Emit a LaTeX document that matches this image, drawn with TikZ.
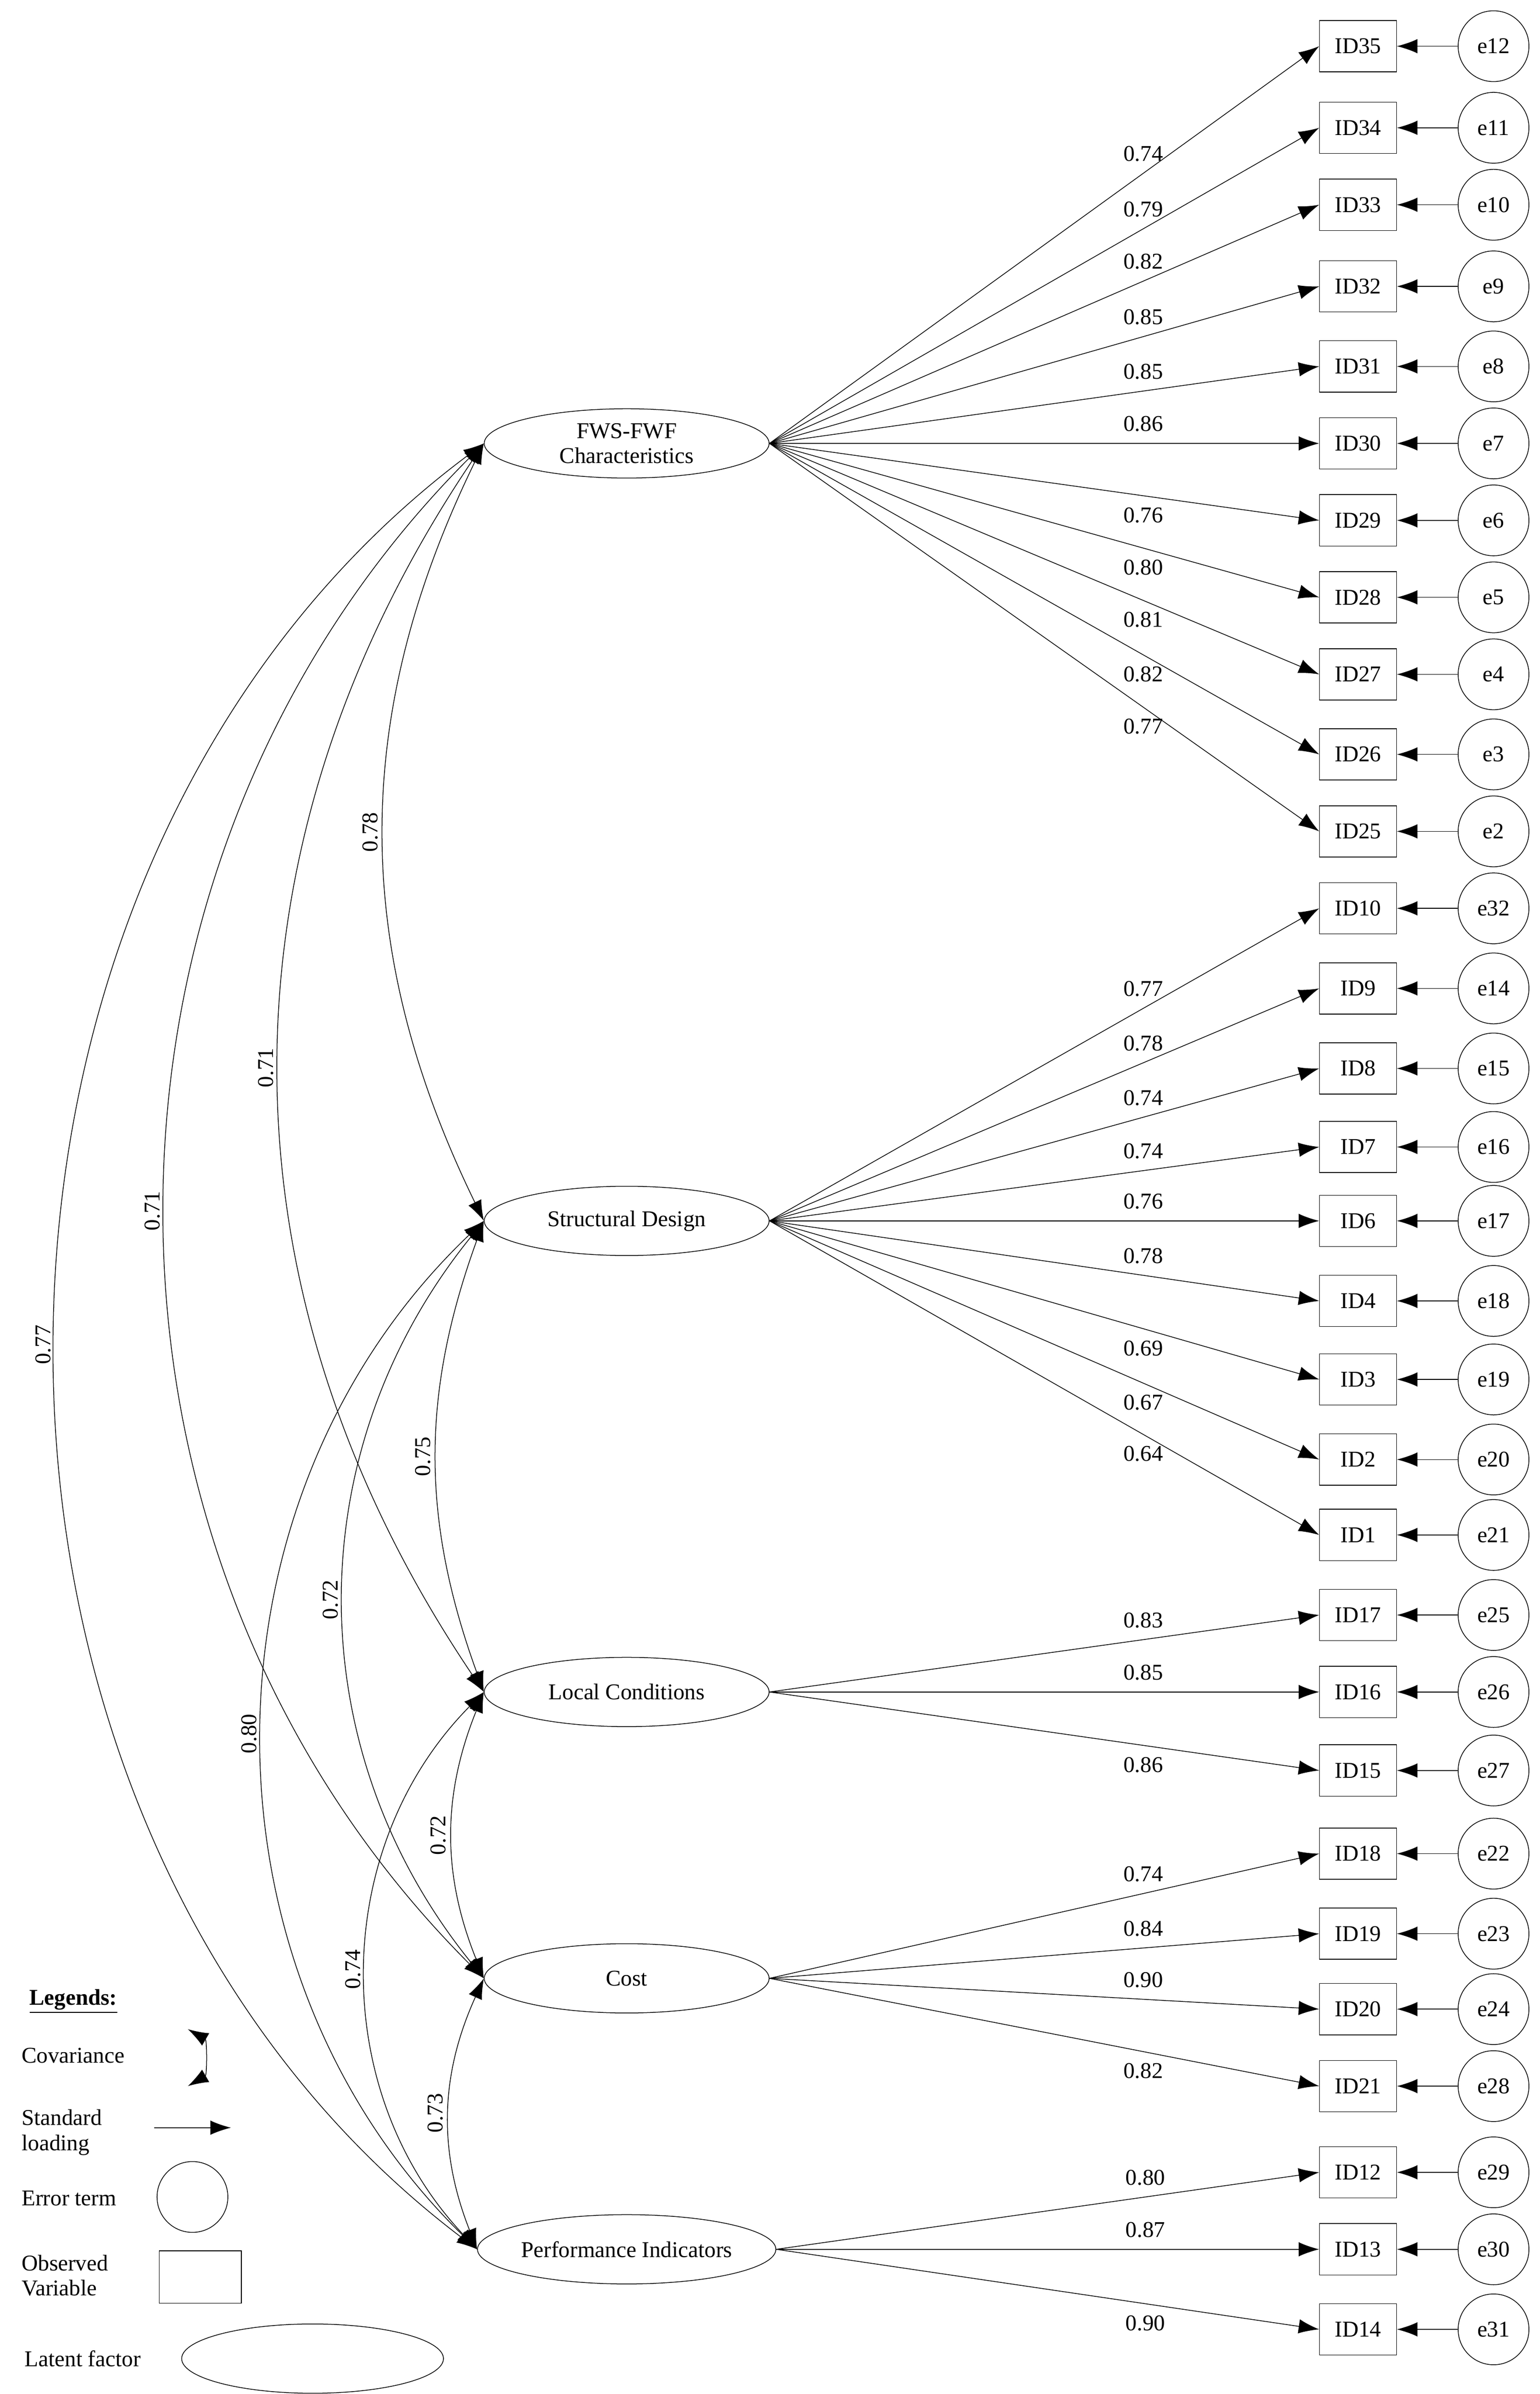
\documentclass[tikz,border=0pt]{standalone}
\usepackage{fontspec}
\setmainfont{Liberation Serif}
\usetikzlibrary{arrows.meta,shapes.geometric}

\begin{document}
\begin{tikzpicture}[x=0.03cm, y=-0.03cm, font=\fontsize{12.5}{14}\selectfont,
	latent/.style={draw, ellipse, minimum width=5.55cm, minimum height=1.35cm, inner sep=0pt},
	obs/.style={draw, rectangle, minimum width=1.5cm, minimum height=1cm, inner sep=0pt},
	err/.style={draw, circle, minimum size=1.38cm, inner sep=0pt},
	load/.style={-{Latex[length=0.4cm, width=0.28cm]}},
	cov/.style={{Latex[length=0.4cm, width=0.28cm]}-{Latex[length=0.4cm, width=0.28cm]}},
	cl/.style={midway, anchor=south, rotate=90}]
	\useasboundingbox (0,0) rectangle (1000,1555);

	\node[latent, align=center] (fws) at (407,288) {FWS-FWF\\Characteristics};
	\node[latent] (sd) at (407,793) {Structural Design};
	\node[latent] (lc) at (407,1099) {Local Conditions};
	\node[latent] (co) at (407,1285) {Cost};
	\node[latent] (pi) at (407,1461) {Performance Indicators};

	% loadings
	\foreach \lat/\id/\e/\y/\val/\s in {
		fws/35/12/30/0.74/above, fws/34/11/83/0.79/above, fws/33/10/133/0.82/above,
		fws/32/9/186/0.85/above, fws/31/8/238/0.85/above, fws/30/7/288/0.86/above,
		fws/29/6/338/0.76/below, fws/28/5/388/0.80/below, fws/27/4/438/0.81/below,
		fws/26/3/490/0.82/below, fws/25/2/540/0.77/below,
		sd/10/32/590/0.77/above, sd/9/14/642/0.78/above, sd/8/15/694/0.74/above,
		sd/7/16/745/0.74/above, sd/6/17/793/0.76/above, sd/4/18/845/0.78/above,
		sd/3/19/896/0.69/below, sd/2/20/948/0.67/below, sd/1/21/997/0.64/below,
		lc/17/25/1049/0.83/above, lc/16/26/1099/0.85/above, lc/15/27/1150/0.86/below,
		co/18/22/1204/0.74/above, co/19/23/1256/0.84/above, co/20/24/1305/0.90/above,
		co/21/28/1355/0.82/below,
		pi/12/29/1411/0.80/above, pi/13/30/1461/0.87/above, pi/14/31/1513/0.90/below} {
		\node[obs] (id\id) at (882,\y) {ID\id};
		\node[err] (e\e) at (970,\y) {e\e};
		\draw[load] (e\e) -- (id\id);
		\draw[load] (\lat.east) -- node[pos=0.68, \s=3pt] {\val} (id\id.west);
	}

	% covariances
	\draw[cov] (fws.west) to[bend right=26] node[cl] {0.78} (sd.west);
	\draw[cov] (fws.west) to[bend right=34] node[cl] {0.71} (lc.west);
	\draw[cov] (fws.west) to[bend right=45] node[cl] {0.71} (co.west);
	\draw[cov] (fws.west) to[bend right=53] node[cl] {0.77} (pi.west);
	\draw[cov] (sd.west) to[bend right=20] node[cl] {0.75} (lc.west);
	\draw[cov] (sd.west) to[bend right=39] node[cl] {0.72} (co.west);
	\draw[cov] (sd.west) to[bend right=46] node[cl] {0.80} (pi.west);
	\draw[cov] (lc.west) to[bend right=22] node[cl] {0.72} (co.west);
	\draw[cov] (lc.west) to[bend right=44] node[cl] {0.74} (pi.west);
	\draw[cov] (co.west) to[bend right=23] node[cl] {0.73} (pi.west);

	% legend
	\node[anchor=west, font=\fontsize{12.5}{14}\selectfont\bfseries] (leg) at (15,1300) {\underline{Legends:}};
	\node[anchor=west] (lcov) at (10,1335) {Covariance};
	\coordinate (ca) at (122,1318);
	\coordinate (cb) at (122,1355);
	\draw[cov] (ca) to[bend left=60] (cb);
	\node[anchor=west, align=left] (lload) at (10,1385) {Standard\\loading};
	\coordinate (la) at (100,1382);
	\coordinate (lb) at (150,1382);
	\draw[load] (la) -- (lb);
	\node[anchor=west] (lerr) at (10,1428) {Error term};
	\node[err] (cerr) at (125,1427) {};
	\node[anchor=west, align=left] (lobs) at (10,1478) {Observed\\Variable};
	\node[draw, rectangle, minimum width=1.6cm, minimum height=1.02cm] (cobs) at (130,1479) {};
	\node[anchor=west] (llat) at (12,1532) {Latent factor};
	\node[latent, minimum width=5.1cm] (clat) at (203,1532) {};
\end{tikzpicture}
\end{document}
